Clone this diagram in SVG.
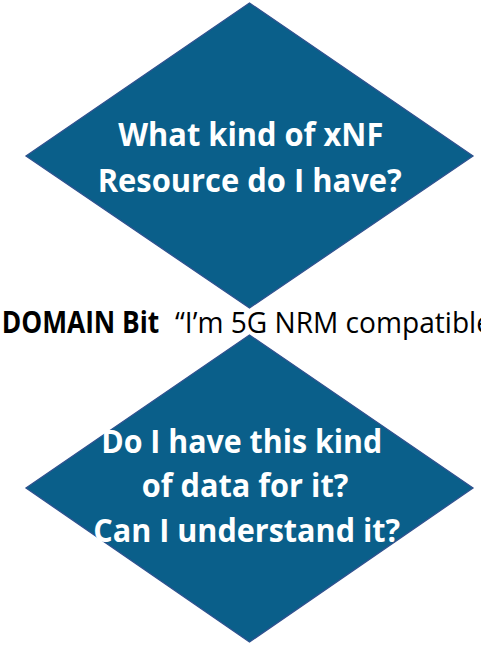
<svg xmlns="http://www.w3.org/2000/svg" width="481" height="648" viewBox="0 0 481 648">
  <style>
    .dia { fill: #0A5F8A; stroke: #2F528F; stroke-width: 1.3; }
    .lbl { font-family: "Open Sans", "Noto Sans", sans-serif; font-weight: bold; font-size: 33px; fill: #FFFFFF; text-anchor: middle; }
    .mid { font-family: "Open Sans", "Noto Sans", sans-serif; font-size: 30px; fill: #000000; }
    .b { font-weight: bold; }
  </style>
  <rect width="481" height="648" fill="#FFFFFF"/>
  <g id="node-xnf-resource">
    <polygon class="dia" points="249.5,3 473,156 249.5,308 26,156"/>
    <text class="lbl" x="250.8" y="146" textLength="265" lengthAdjust="spacingAndGlyphs">What kind of xNF</text>
    <text class="lbl" x="249.7" y="192" textLength="304" lengthAdjust="spacingAndGlyphs">Resource do I have?</text>
  </g>
  <g id="label-domain-bit">
    <text class="mid b" x="1.7" y="333" textLength="157.6" lengthAdjust="spacingAndGlyphs">DOMAIN Bit</text>
    <text class="mid" x="175" y="333" textLength="317" lengthAdjust="spacingAndGlyphs">“I’m 5G NRM compatible</text>
  </g>
  <g id="node-data-understand">
    <polygon class="dia" points="249.5,335 473,488 249.5,642 26,488"/>
    <text class="lbl" x="241.7" y="453" textLength="281" lengthAdjust="spacingAndGlyphs">Do I have this kind</text>
    <text class="lbl" x="245" y="497" textLength="206.7" lengthAdjust="spacingAndGlyphs">of data for it?</text>
    <text class="lbl" x="246.7" y="542" textLength="306.7" lengthAdjust="spacingAndGlyphs">Can I understand it?</text>
  </g>
</svg>
